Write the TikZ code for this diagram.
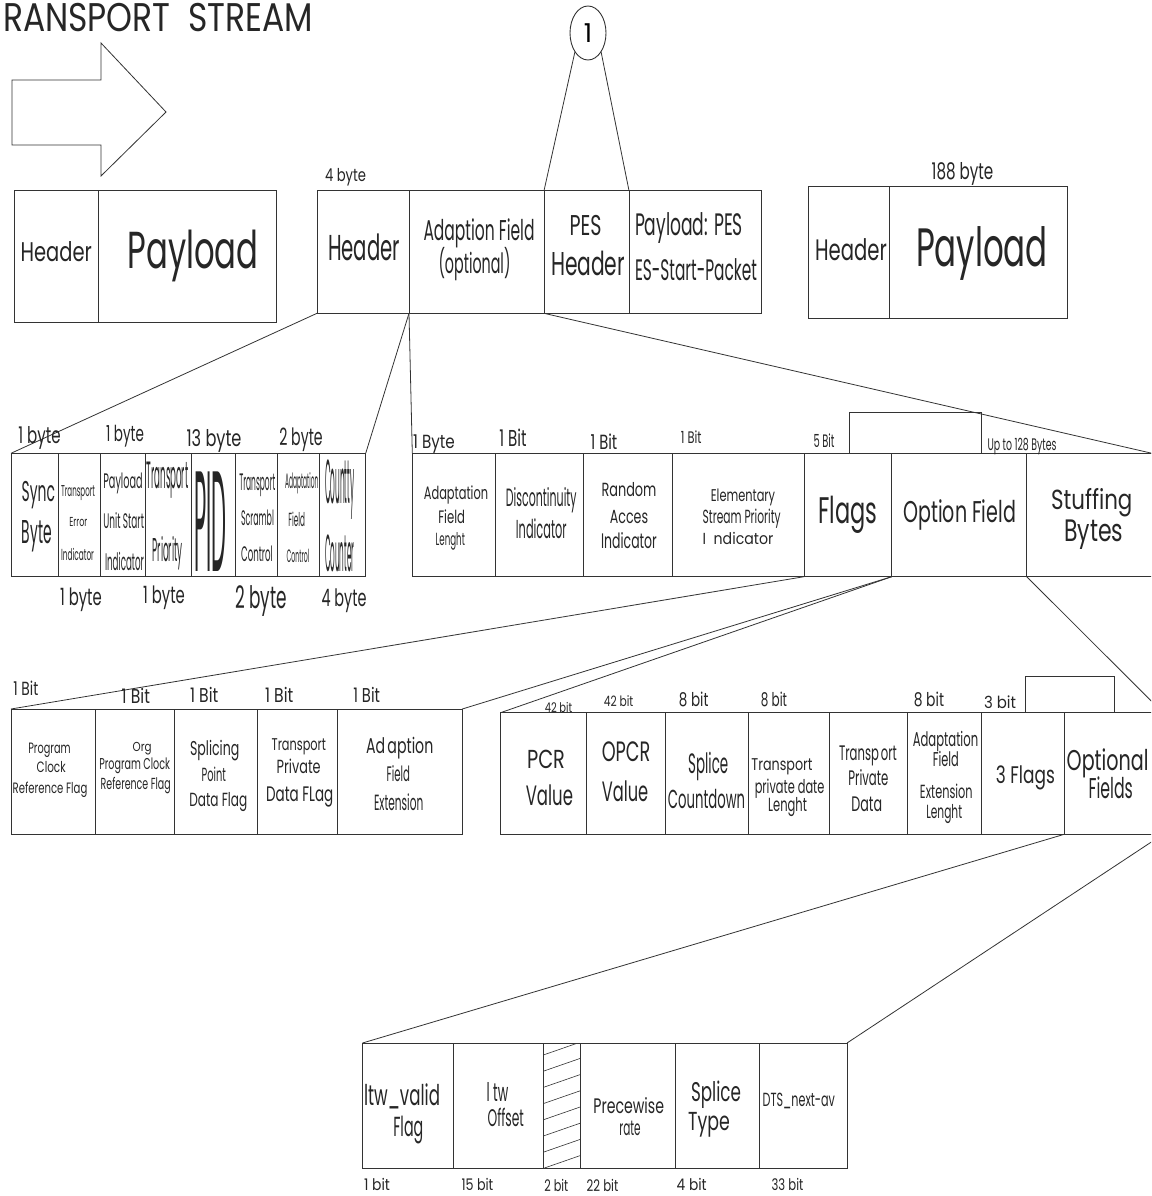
\documentclass[tikz,border=0pt]{standalone}
\usepackage{fontspec}
\setmainfont{Poppins}
\usepackage{graphicx}
\usetikzlibrary{shapes.geometric}

\tikzset{
  cell/.style={draw=black!80, line width=0.9pt, inner sep=0pt, outer sep=0pt,
               rectangle, anchor=north west},
  conn/.style={draw=black!80, line width=0.8pt},
  txt/.style={anchor=base, inner sep=0pt, outer sep=0pt, text=black!85},
  hatch/.style={draw=black!80, line width=0.6pt},
}

% text line: x, baseline y, font size, printed width, text
\newcounter{labno}
\newcommand{\tlab}[5]{\stepcounter{labno}\edef\labname{lab\arabic{labno}}%
  \node[txt, font=\fontsize{#3}{#3}\selectfont] (\labname) at (#1,#2)
    {\resizebox{#4pt}{\height}{#5}};}

% field cell: name, left, top, right, bottom
\newcommand{\mkcell}[5]{%
  \node[cell, minimum width={(#4-#2)*1pt}, minimum height={(#5-#3)*1pt}] (#1) at (#2,#3) {};}

\begin{document}
\begin{tikzpicture}[x=1pt,y=-1pt]
\clip (0,0) rectangle (1151,1196);
\fill[white] (0,0) rectangle (1151,1196);

% ---- title and stream arrow
\tlab{158}{31.7}{40}{310}{RANSPORT\ \ STREAM}
\draw[conn] (12,80) -- (101,80) -- (101,43) -- (166,112) -- (101,176)
            -- (101,145) -- (12,145) -- cycle;

% ---- transport packets
\mkcell{hdrA}{14}{190.7}{98}{322}
\mkcell{payA}{98}{190.7}{276}{322}
\tlab{56.3}{261.7}{27}{71.3}{Header}
\tlab{193}{268}{52}{131}{Payload}

\mkcell{hdrB}{317}{190.7}{409}{313.3}
\mkcell{adpB}{409}{190.7}{544}{313.3}
\mkcell{pesB}{544}{190.7}{629}{313.3}
\mkcell{payB}{629}{190.7}{761.7}{313.3}
\tlab{345.5}{181.7}{17.7}{41}{4 byte}
\tlab{364}{260}{36}{72}{Header}
\tlab{479}{240}{28.6}{111}{Adaption Field}
\tlab{474.5}{273.3}{28}{72}{(optional)}
\tlab{585.5}{235}{28.6}{32}{PES}
\tlab{588}{275}{33}{74}{Header}
\tlab{689}{235}{31}{108}{Payload: PES}
\tlab{696}{280}{29.6}{122}{ES-Start-Packet}

\node[draw=black!80, line width=0.9pt, ellipse, minimum width=36pt,
      minimum height=54pt, inner sep=0pt, outer sep=0pt,
      font=\fontsize{26}{26}\selectfont] (one) at (588,33) {1};
\draw[conn] (one.235) -- (pesB.north west);
\draw[conn] (one.305) -- (pesB.north east);

\mkcell{hdrC}{808}{186.7}{889.3}{318.3}
\mkcell{payC}{889.3}{186.7}{1067}{318.3}
\tlab{962.5}{179.3}{23}{61.7}{188 byte}
\tlab{851}{260}{29.6}{71.7}{Header}
\tlab{982}{266.7}{54}{131.7}{Payload}

% ---- header fields
\mkcell{syncC}{11}{453.3}{58.3}{576.7}
\mkcell{teiC}{58.3}{453.3}{100}{576.7}
\mkcell{pusiC}{100}{453.3}{145.7}{576.7}
\mkcell{tpC}{145.7}{453.3}{191}{576.7}
\mkcell{pidC}{191}{453.3}{235.3}{576.7}
\mkcell{tscC}{235.3}{453.3}{277.3}{576.7}
\mkcell{afcC}{277.3}{453.3}{319.3}{576.7}
\mkcell{ccC}{319.3}{453.3}{365.7}{576.7}
\draw[conn] (hdrB.south west) -- (syncC.north west);
\draw[conn] (hdrB.south east) -- (ccC.north east);

\tlab{39.5}{443.3}{23}{42.3}{1 byte}
\tlab{125}{441.7}{22}{38}{1 byte}
\tlab{214}{446}{23}{55}{13 byte}
\tlab{301}{445}{23.8}{43.3}{2 byte}
\tlab{81}{605}{23.8}{41.7}{1 byte}
\tlab{164}{603.3}{23.8}{41.7}{1 byte}
\tlab{261}{608.3}{31}{51.7}{2 byte}
\tlab{344}{606.7}{24}{45}{4 byte}

\tlab{38.3}{501.7}{28.6}{33.3}{Sync}
\tlab{36.7}{543.3}{33}{30}{Byte}
\tlab{78}{496}{15.7}{34}{Transport}
\tlab{78.3}{526}{13}{18}{Error}
\tlab{77.5}{560}{16}{33}{Indicator}
\tlab{123}{488.3}{21}{39.3}{Payload}
\tlab{123.7}{528.3}{21}{40.7}{Unit Start}
\tlab{124.5}{570}{24}{39}{Indicator}
\tlab{167.5}{488.3}{38}{41.7}{Transport}
\tlab{167.7}{561.7}{33}{30}{Priority}
\tlab{210.5}{571.7}{143}{32.3}{PID}
\tlab{257.3}{490}{23.8}{36}{Transport}
\tlab{257.5}{525}{21}{33}{Scrambl}
\tlab{257}{561.7}{21}{31.7}{Control}
\tlab{301.7}{488.3}{21}{33.3}{Adaptation}
\tlab{296.7}{526.7}{19}{16.7}{Field}
\tlab{298}{562.7}{18}{22.7}{Control}
\tlab{339.7}{503.3}{62}{29.3}{Countty}
\tlab{339.7}{571.7}{52}{29.3}{Counter}

% ---- adaptation field
\mkcell{aflC}{412.3}{453.3}{495.7}{576.7}
\mkcell{discC}{495.7}{453.3}{583}{576.7}
\mkcell{raiC}{583}{453.3}{672.3}{576.7}
\mkcell{espiC}{672.3}{453.3}{804}{576.7}
\mkcell{flagsC}{804}{453.3}{891.7}{576.7}
\mkcell{optC}{891.7}{453.3}{1026.7}{576.7}
\mkcell{stufC}{1026.7}{453.3}{1152}{576.7}
\node[cell, minimum width=131.7pt, minimum height=41.3pt] (optTop) at (849.3,412) {};
\draw[conn] (adpB.south west) -- (aflC.north west);
\draw[conn] (adpB.south east) -- (stufC.north east);

\tlab{434}{448.3}{19}{41.7}{1 Byte}
\tlab{513}{446}{23}{27.3}{1 Bit}
\tlab{604}{449.3}{20.5}{26.7}{1 Bit}
\tlab{691.3}{443.3}{16.7}{20.7}{1 Bit}
\tlab{824}{447.7}{18}{21}{5 Bit}
\tlab{1022}{450}{16.7}{69}{Up to 128 Bytes}

\tlab{456}{499.3}{18}{64.3}{Adaptation}
\tlab{451.7}{523.3}{18}{26.7}{Field}
\tlab{450.3}{545}{17.6}{29.3}{Lenght}
\tlab{541.3}{506}{25}{70.7}{Discontinuity}
\tlab{541.3}{538.3}{26}{50.7}{Indicator}
\tlab{629}{496.7}{19}{55}{Random}
\tlab{629}{523.3}{19}{38.3}{Acces}
\tlab{629}{548.3}{21}{55.7}{Indicator}
\tlab{743}{501.7}{17}{64.3}{Elementary}
\tlab{741.7}{523.3}{19}{78}{Stream Priority}
\tlab{738}{544}{16}{70.7}{I\ \ ndicator}
\tlab{848}{523.3}{37}{59}{Flags}
\tlab{959.7}{522.7}{30}{112.7}{Option Field}
\tlab{1091.7}{509.3}{27.6}{81.3}{Stuffing}
\tlab{1093.8}{541.7}{31}{59}{Bytes}

% ---- flag bits
\mkcell{pcrfC}{11}{709}{95}{834.3}
\mkcell{opcrfC}{95}{709}{174.3}{834.3}
\mkcell{spdfC}{174.3}{709}{257.3}{834.3}
\mkcell{tpdfC}{257.3}{709}{337.7}{834.3}
\mkcell{afeC}{337.7}{709}{462.3}{834.3}
\draw[conn] (flagsC.south west) -- (pcrfC.north west);
\draw[conn] (flagsC.south east) -- (afeC.north east);

\tlab{25.8}{695}{19}{25}{1 Bit}
\tlab{135.8}{703.3}{20}{28.3}{1 Bit}
\tlab{204.2}{702.3}{20}{28.3}{1 Bit}
\tlab{279.2}{702.3}{20}{28.3}{1 Bit}
\tlab{366.7}{702.3}{20}{26.7}{1 Bit}

\tlab{49.5}{753.3}{15}{42.3}{Program}
\tlab{51.2}{772.3}{15}{29}{Clock}
\tlab{50}{793.3}{15}{74.7}{Reference Flag}
\tlab{142.2}{751.5}{13}{19}{Org}
\tlab{134.7}{769}{15.7}{70.7}{Program Clock}
\tlab{135.7}{789}{16}{70}{Reference Flag}
\tlab{214.7}{755.7}{20}{49.3}{Splicing}
\tlab{213.8}{781.7}{19}{24.3}{Point}
\tlab{218.3}{806.7}{19}{58}{Data Flag}
\tlab{298.8}{750}{17}{54.3}{Transport}
\tlab{298.7}{773.3}{19}{44}{Private}
\tlab{299.7}{801.7}{21}{67.3}{Data FLag}
\tlab{399.7}{753.3}{21.4}{67.3}{Ad\,aption}
\tlab{398.3}{781.7}{21}{23.3}{Field}
\tlab{398.7}{810}{22}{49.3}{Extension}

% ---- optional fields
\mkcell{pcrC}{500.5}{712.7}{586.1}{834.3}
\mkcell{opcrC}{586.1}{712.7}{665}{834.3}
\mkcell{scC}{665}{712.7}{748}{834.3}
\mkcell{tpdlC}{748}{712.7}{829.4}{834.3}
\mkcell{tpdC}{829.4}{712.7}{907.4}{834.3}
\mkcell{afelC}{907.4}{712.7}{981.1}{834.3}
\mkcell{flgthreeC}{981.1}{712.7}{1064.2}{834.3}
\mkcell{optfC}{1064.2}{712.7}{1163}{834.3}
\node[cell, minimum width=88.6pt, minimum height=36pt] (flgTop) at (1025.4,676.7) {};
\draw[conn] (optC.south west) -- (pcrC.north west);
\draw[conn] (optC.south east) -- (optfC.north east);

\tlab{558.5}{712.7}{13.3}{27.4}{42 bit}
\tlab{618.6}{706.7}{14.3}{29.5}{42 bit}
\tlab{693.7}{706}{19}{29.5}{8 bit}
\tlab{774}{706}{19}{26.2}{8 bit}
\tlab{928.9}{706}{19}{30.3}{8 bit}
\tlab{1000}{708.3}{16.7}{32}{3 bit}

\tlab{546}{768.3}{26}{37.9}{PCR}
\tlab{549.4}{805}{28}{47.2}{Value}
\tlab{626}{761.7}{28}{48.5}{OPCR}
\tlab{625}{801.7}{28}{46.4}{Value}
\tlab{708.2}{773}{28}{40}{Splice}
\tlab{706.5}{808.3}{26}{77.2}{Countdown}
\tlab{782}{770}{17}{61.1}{Transport}
\tlab{789.6}{793.3}{19}{69.6}{private date}
\tlab{787.6}{811.7}{19}{38.8}{Lenght}
\tlab{868}{760}{21}{57.8}{Transp\,ort}
\tlab{868.4}{785}{21}{40}{Private}
\tlab{866.7}{811.7}{21}{30.8}{Data}
\tlab{945.5}{746}{20}{65.4}{Adaptation}
\tlab{945.8}{766.7}{20}{26.1}{Field}
\tlab{946.3}{798.3}{19}{52.7}{Extension}
\tlab{944.2}{818.3}{19}{35.9}{Lenght}
\tlab{1025.4}{783.3}{24}{59}{3 Flags}
\tlab{1107.6}{770}{28.6}{81.8}{Optional}
\tlab{1110.8}{798.3}{28.6}{44.3}{Fields}

% ---- splice fields
\mkcell{ltwvC}{362.5}{1043}{453.3}{1168.3}
\mkcell{ltwoC}{453.3}{1043}{543.3}{1168.3}
\mkcell{resC}{543.3}{1043}{580.7}{1168.3}
\mkcell{pwrC}{580.7}{1043}{675}{1168.3}
\mkcell{stC}{675}{1043}{759.3}{1168.3}
\mkcell{dtsC}{759.3}{1043}{847}{1168.3}
\draw[conn] (optfC.south west) -- (ltwvC.north west);
\draw[conn] (optfC.south east) -- (dtsC.north east);

\begin{scope}
  \clip (resC.north west) rectangle (resC.south east);
  \foreach \k in {0,...,7}
    \draw[hatch] (543.3,1055+16.2*\k) -- (580.7,1042+16.2*\k);
\end{scope}

\tlab{402}{1105}{28.6}{76}{ltw\_valid}
\tlab{408.3}{1136}{27.6}{30}{Flag}
\tlab{497.5}{1101}{25.7}{21.7}{l\ tw}
\tlab{505.8}{1126.7}{24}{36.3}{Offset}
\tlab{628.7}{1113.3}{21}{70.7}{Precewise}
\tlab{630}{1135}{21}{21.3}{rate}
\tlab{716}{1101}{27}{50}{Splice}
\tlab{709}{1130}{26}{41.7}{Type}
\tlab{798.8}{1106.7}{19}{72.3}{DTS\_next-av}

\tlab{377}{1190}{16}{26}{1 bit}
\tlab{477.5}{1190}{16}{31.7}{15 bit}
\tlab{556.3}{1191.7}{16}{24}{2 bit}
\tlab{602.5}{1191.7}{16}{31.7}{22 bit}
\tlab{691.7}{1190}{16}{30}{4 bit}
\tlab{787.5}{1190}{16}{31.7}{33 bit}
\end{tikzpicture}
\end{document}
